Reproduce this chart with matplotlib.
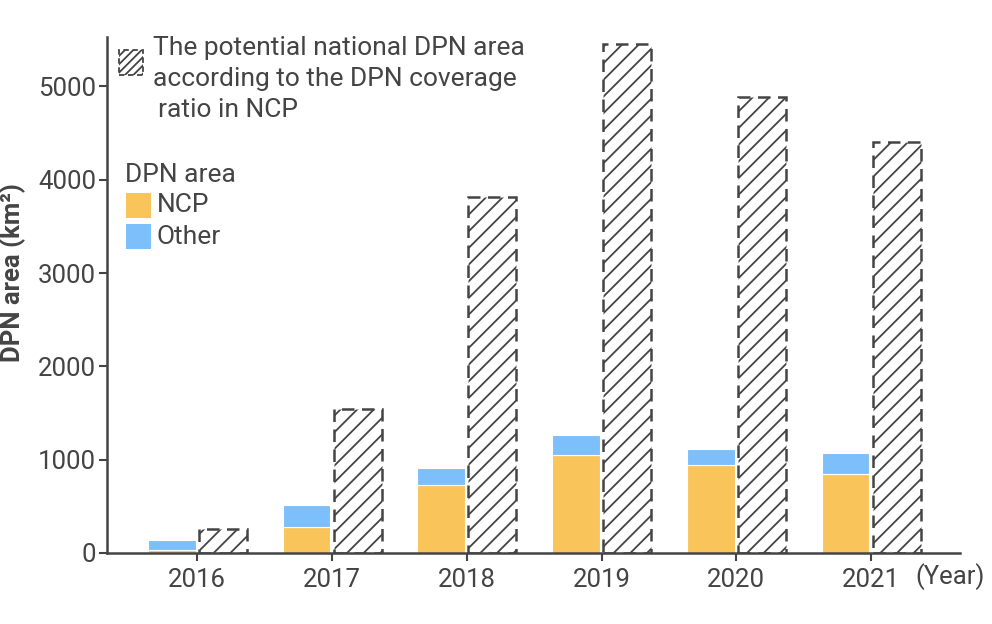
import numpy as np
import matplotlib
matplotlib.use("Agg")
import matplotlib.pyplot as plt
from matplotlib.patches import Rectangle

# values (km2)
years = [2016, 2017, 2018, 2019, 2020, 2021]
ncp_area = [35, 278, 728, 1046, 939, 849]
other_area = [104, 232, 185, 221, 174, 222]
potential_area = [257, 1538, 3815, 5450, 4886, 4400]

ncp_color = "#F9C55B"
other_color = "#7CBFFB"
ink = "#444444"

plt.rcParams['font.family'] = ['Roboto', 'DejaVu Sans']
plt.rcParams['hatch.linewidth'] = 1.3
plt.rcParams['hatch.color'] = ink

fig = plt.figure(figsize=(9.92, 6.24), dpi=100)
ax = fig.add_axes([107 / 992, 1 - 553 / 624, (960 - 107) / 992, (553 - 37) / 624])

x = np.array(years, dtype=float)
w = 0.355
off = 0.19

ax.bar(x - off, ncp_area, width=w, color=ncp_color, edgecolor="white", linewidth=0.8)
ax.bar(x - off, other_area, width=w, bottom=ncp_area, color=other_color,
       edgecolor="white", linewidth=0.8)
ax.bar(x + off, potential_area, width=w, facecolor="white", edgecolor=ink,
       hatch="//", linewidth=1.8, linestyle=(0, (5, 3)))

ax.set_xlim(2015.33, 2021.66)
ax.set_ylim(0, 5530)
ax.set_xticks(years)
ax.set_xticklabels([str(y) for y in years])
ax.set_yticks([0, 1000, 2000, 3000, 4000, 5000])

for s in ["top", "right"]:
    ax.spines[s].set_visible(False)
for s in ["left", "bottom"]:
    ax.spines[s].set_color(ink)
    ax.spines[s].set_linewidth(1.8)
ax.tick_params(axis="both", colors=ink, labelsize=18.5, length=6, width=1.5, labelcolor=ink)
ax.tick_params(axis="x", pad=5)
ax.tick_params(axis="y", pad=2)

# y axis title placed by hand (it sits close to the left edge)
fig.text(13 / 992, 1 - 273 / 624, "DPN area (km²)", fontsize=18.5, fontweight="bold",
         color=ink, rotation=90, ha="center", va="center")

fig.text(915 / 992, 1 - 577 / 624, "(Year)", fontsize=18.5, color=ink, ha="left", va="center")

# legend for potential area
fig.patches.append(Rectangle((119 / 992, 1 - 75 / 624), 24 / 992, 25 / 624,
                             transform=fig.transFigure, facecolor="white", edgecolor=ink,
                             hatch="////", linewidth=1.3, linestyle=(0, (3, 2))))
fig.text(153 / 992, 1 - 48 / 624, "The potential national DPN area", fontsize=19,
         color=ink, ha="left", va="center")
fig.text(153 / 992, 1 - 79 / 624, "according to the DPN coverage", fontsize=19,
         color=ink, ha="left", va="center")
fig.text(158 / 992, 1 - 110 / 624, "ratio in NCP", fontsize=19,
         color=ink, ha="left", va="center")

# legend for DPN area
fig.text(125 / 992, 1 - 175 / 624, "DPN area", fontsize=19, color=ink, ha="left", va="center")
fig.patches.append(Rectangle((126 / 992, 1 - 218 / 624), 25 / 992, 25 / 624,
                             transform=fig.transFigure, facecolor=ncp_color, edgecolor="none"))
fig.text(157 / 992, 1 - 205 / 624, "NCP", fontsize=19, color=ink, ha="left", va="center")
fig.patches.append(Rectangle((126 / 992, 1 - 249 / 624), 25 / 992, 25 / 624,
                             transform=fig.transFigure, facecolor=other_color, edgecolor="none"))
fig.text(157 / 992, 1 - 237 / 624, "Other", fontsize=19, color=ink, ha="left", va="center")

fig.savefig("out.png", dpi=100)
